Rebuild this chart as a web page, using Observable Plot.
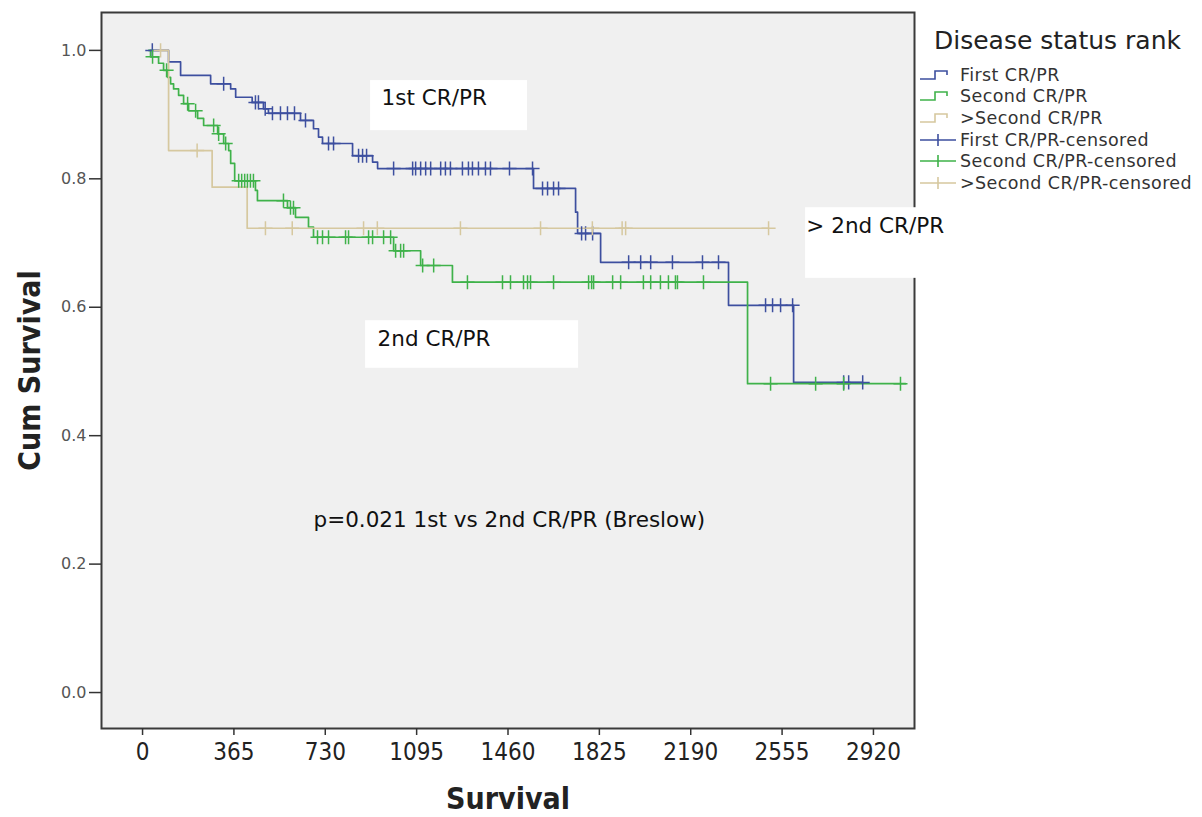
<!DOCTYPE html>
<html><head><meta charset="utf-8">
<script src="https://cdn.jsdelivr.net/npm/d3@7"></script>
<script src="https://cdn.jsdelivr.net/npm/@observablehq/plot@0.6"></script>
<style>
body{margin:0;background:#fff;}
#wrap{position:relative;width:1202px;height:817px;overflow:hidden;}
#legend{position:absolute;left:918px;top:22px;font-family:"DejaVu Sans",sans-serif;color:#333;}
#legend .title{font-size:25px;line-height:38px;margin-left:16px;margin-bottom:4px;color:#222;}
#legend .row{display:flex;align-items:center;height:21.6px;font-size:17.5px;letter-spacing:0.4px;white-space:nowrap;}
#legend .row svg{width:40px;height:16px;flex:none;margin-right:2px;}
</style></head>
<body><div id="wrap"><div id="legend"></div></div>
<script>
// ---- data ----
const groupNames = ["First CR/PR", "Second CR/PR", ">Second CR/PR"];
const groupColors = ["#3d4f9f", "#3fb24a", "#d6c89f"];

const firstTime = [30,104,152,272,352,372,438,483,503,631,683,703,719,839,919,939,1562,1730,1738,1830,2341,2601,2877];
const firstSurv = [1,0.982,0.961,0.948,0.940,0.927,0.919,0.909,0.902,0.891,0.878,0.865,0.855,0.836,0.826,0.816,0.785,0.748,0.715,0.670,0.603,0.483,0.483];
const firstCensored = [39,324,451,463,490,519,551,579,607,651,743,763,863,879,895,1003,1079,1091,1111,1131,1151,1191,1210,1230,1278,1302,1318,1342,1370,1390,1466,1558,1598,1618,1642,1662,1754,1770,1798,1942,1990,2030,2117,2237,2301,2489,2517,2549,2597,2801,2821,2877];

const secondTime = [24,32,64,84,100,112,124,144,164,184,220,244,300,324,344,352,368,451,459,579,611,663,683,1003,1111,1238,2417,3048];
const secondSurv = [1,0.99,0.98,0.969,0.958,0.948,0.94,0.93,0.917,0.906,0.894,0.883,0.87,0.855,0.844,0.824,0.797,0.782,0.766,0.755,0.74,0.725,0.709,0.688,0.665,0.639,0.481,0.481];
const secondCensored = [40,96,180,212,284,304,332,384,396,408,419,431,443,563,591,603,699,719,743,811,823,903,919,963,991,1011,1031,1043,1119,1163,1298,1438,1470,1522,1538,1550,1642,1782,1794,1802,1878,1910,2001,2030,2069,2101,2129,2137,2241,2509,2689,2801,3028];

const thirdTime = [60,104,278,418,2501];
const thirdSurv = [1,0.844,0.787,0.723,0.723];
const thirdCensored = [72,218,491,598,883,938,1270,1590,1797,1916,1930,2501];

const xTicks = [0,365,730,1095,1460,1825,2190,2555,2920];
const yTicks = [0,0.2,0.4,0.6,0.8,1.0];

const noteText = ["1st CR/PR", "2nd CR/PR", "> 2nd CR/PR"];
const noteLeft = [911, 891, 2649];
const noteRight = [1538, 1742, 3188];
const noteTop = [0.953, 0.579, 0.755];
const noteBottom = [0.875, 0.505, 0.645];
const noteTextY = [0.925, 0.551, 0.727];
const noteTextX = [955, 939, 2652];
const pValueText = "p=0.021 1st vs 2nd CR/PR (Breslow)";
const pValueX = 683, pValueY = 0.268;

// ---- build tables ----
const steps = [[firstTime, firstSurv, firstCensored],[secondTime, secondSurv, secondCensored],[thirdTime, thirdSurv, thirdCensored]];
function survAt(times, surv, t){ let v = surv[0]; for (let i=0;i<times.length;i++){ if (times[i] <= t) v = surv[i]; } return v; }
const curves = [], marks = [];
steps.forEach(([T,S,C], g) => {
  T.forEach((t,i) => curves.push({group: groupNames[g], t, s: S[i]}));
  C.forEach(t => marks.push({group: groupNames[g], t, s: survAt(T,S,t)}));
});
const notes = noteText.map((text,i) => ({text, x1: noteLeft[i], x2: noteRight[i], y1: noteBottom[i], y2: noteTop[i], tx: noteTextX[i], ty: noteTextY[i]}));

const color = {domain: groupNames, range: groupColors};
const narrow = "Liberation Sans Narrow, DejaVu Sans Condensed, sans-serif";

const chart = Plot.plot({
  width: 1202, height: 817,
  marginLeft: 101, marginRight: 288, marginTop: 12, marginBottom: 89,
  style: {background: "transparent", fontFamily: "DejaVu Sans, sans-serif", overflow: "visible"},
  x: {domain: [-164, 3084]},
  y: {domain: [-0.056, 1.059]},
  color,
  marks: [
    Plot.frame({fill: "#f0f0f0", stroke: "#3a3a3a", strokeWidth: 2}),
    Plot.axisY({ticks: yTicks, tickFormat: d3.format(".1f"), tickSize: 12, tickPadding: 3, fontSize: 16, label: null, color: "#555", stroke: "#333", strokeWidth: 1.5}),
    Plot.axisX({ticks: xTicks, tickFormat: d => String(d), tickSize: 7, tickPadding: 7, fontSize: 24, fontFamily: narrow, label: null, color: "#222", stroke: "#333", strokeWidth: 1.5}),
    Plot.line(curves, {x: "t", y: "s", z: "group", stroke: "group", curve: "step-after", strokeWidth: 1.7}),
    Plot.dot(marks, {x: "t", y: "s", stroke: "group", symbol: "plus", r: 4.6, strokeWidth: 1.5}),
    Plot.rect(notes, {x1: "x1", x2: "x2", y1: "y1", y2: "y2", fill: "white"}),
    Plot.text(notes, {x: "tx", y: "ty", text: "text", textAnchor: "start", fontSize: 21.5, fill: "#111"}),
    Plot.text([pValueText], {x: pValueX, y: pValueY, text: d => d, textAnchor: "start", fontSize: 21.5, fill: "#111"}),
    Plot.text(["Survival"], {frameAnchor: "bottom", dy: 80, fontSize: 30, fontWeight: "bold", fontFamily: narrow, fill: "#222"}),
    Plot.text(["Cum Survival"], {frameAnchor: "left", textAnchor: "middle", dx: -71, rotate: -90, fontSize: 30, fontWeight: "bold", fontFamily: narrow, fill: "#222"})
  ]
});
document.getElementById("wrap").prepend(chart);

// ---- legend ----
const legend = document.getElementById("legend");
legend.innerHTML = `<div class="title">Disease status rank</div>` +
  groupNames.map((n,i) => `<div class="row"><svg viewBox="0 0 40 16"><path d="M2,12H17V4H29V8" fill="none" stroke="${groupColors[i]}" stroke-width="1.6"/></svg><span>${n}</span></div>`).join("") +
  groupNames.map((n,i) => `<div class="row"><svg viewBox="0 0 40 16"><path d="M2,8H38M20,2V14" fill="none" stroke="${groupColors[i]}" stroke-width="1.6"/></svg><span>${n}-censored</span></div>`).join("");
</script></body></html>
